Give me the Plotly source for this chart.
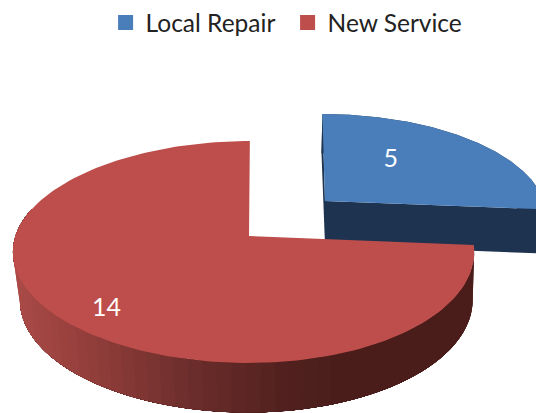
import math
import plotly.graph_objects as go

categories = ["Local Repair", "New Service"]
values = [5, 14]

TOP_COLORS = ["#4A7EBB", "#BE4E4B"]
BLUE_WALL = "#1E334F"
W, H = 536, 413
K = 0.144
STEPS = 160

# Perspective geometry per slice: top face and bottom face
GEOM = {
    "Local Repair": {
        "top": dict(ax=325, ay=201, rx=219, warp=0, ry=99.5, skew=-3),
        "bot": dict(ax=325, ay=245, rx=219, warp=0, ry=105, skew=-4),
    },
    "New Service": {
        "top": dict(ax=249, ay=236, rx=228.25, warp=-5.25, ry=108.7, skew=1),
        "bot": dict(ax=249, ay=284, rx=224, warp=-2.5, ry=110, skew=1),
    },
}
LABEL_POS = {"Local Repair": (37, 0.54), "New Service": (222, 0.835)}


def proj(g, theta_deg, r=1.0):
    t = math.radians(theta_deg)
    u, v = r * math.sin(t), r * math.cos(t)
    w = 1 + K * v
    x = g["ax"] + (g["rx"] + g["warp"] * u) * u / w + g["skew"] * v / w
    y = g["ay"] - g["ry"] * v / w
    return x, y


def arc(g, a0, a1, n=STEPS):
    pts = [proj(g, a0 + (a1 - a0) * i / n) for i in range(n + 1)]
    return [p[0] for p in pts], [p[1] for p in pts]


def wall_color(x):
    stops = [(15, (170, 74, 71)), (100, (142, 60, 57)), (200, (104, 44, 42)),
             (290, (80, 32, 30)), (340, (74, 29, 27)), (540, (74, 29, 27))]
    for (x0, c0), (x1, c1) in zip(stops, stops[1:]):
        if x <= x1:
            f = max(0, (x - x0) / (x1 - x0))
            return "rgb(%d,%d,%d)" % tuple(round(a + (b - a) * f) for a, b in zip(c0, c1))
    return "rgb(74,29,27)"


total = sum(values)
spans = []
start = 0.0
for val in values:
    spans.append((start, start + 360.0 * val / total))
    start += 360.0 * val / total

fig = go.Figure()


def poly(xs, ys, color):
    fig.add_trace(go.Scatter(x=xs, y=ys, mode="lines", fill="toself", fillcolor=color,
                             line=dict(color=color, width=0), showlegend=False,
                             hoverinfo="skip"))


# Blue slice
g = GEOM[categories[0]]
a0, a1 = spans[0]
tx, ty = arc(g["top"], a0, a1)
bx, by = arc(g["bot"], a0, a1)
poly(tx + bx[::-1], ty + by[::-1], BLUE_WALL)
apt, apb = (g["top"]["ax"], g["top"]["ay"]), (g["bot"]["ax"], g["bot"]["ay"])
poly([apt[0], apb[0], bx[0], tx[0]], [apt[1], apb[1], by[0], ty[0]], BLUE_WALL)
poly([apt[0], apb[0], bx[-1], tx[-1]], [apt[1], apb[1], by[-1], ty[-1]], BLUE_WALL)
poly([apt[0]] + tx + [apt[0]], [apt[1]] + ty + [apt[1]], TOP_COLORS[0])

# Red slice: side wall painted as nested bands, then the top face
g = GEOM[categories[1]]
a0, a1 = spans[1]
wall_end = 285.0
n = 60
for i in range(n):
    p0 = a0 + (wall_end - a0) * i / n
    p1 = a0 + (wall_end - a0) * (i + 1) / n
    tx, ty = arc(g["top"], p0, wall_end, 80)
    bx, by = arc(g["bot"], p0, wall_end, 80)
    mx, _ = proj(g["top"], (p0 + p1) / 2)
    poly(tx + bx[::-1], ty + by[::-1], wall_color(mx))
tx, ty = arc(g["top"], a0, a1)
poly([g["top"]["ax"]] + tx + [g["top"]["ax"]], [g["top"]["ay"]] + ty + [g["top"]["ay"]], TOP_COLORS[1])

# Data labels
for cat, val in zip(categories, values):
    th, r = LABEL_POS[cat]
    lx, ly = proj(GEOM[cat]["top"], th, r)
    fig.add_trace(go.Scatter(x=[lx], y=[ly], mode="text", text=[str(val)],
                             textfont=dict(family="Lato", size=25, color="white"),
                             showlegend=False, hoverinfo="skip"))

# Legend
for cat, col in zip(categories, TOP_COLORS):
    fig.add_trace(go.Scatter(x=[None], y=[None], mode="markers", name=cat,
                             marker=dict(symbol="square", size=15, color=col)))

fig.update_layout(
    width=W, height=H,
    margin=dict(l=0, r=0, t=0, b=0),
    paper_bgcolor="white", plot_bgcolor="white",
    xaxis=dict(range=[0, W], visible=False, fixedrange=True),
    yaxis=dict(range=[H, 0], visible=False, fixedrange=True),
    legend=dict(orientation="h", x=0.197, y=1.0, xanchor="left", yanchor="top",
                font=dict(family="Lato", size=24.5, color="#222222"),
                itemwidth=30, entrywidth=137, entrywidthmode="pixels",
                bgcolor="rgba(0,0,0,0)"),
)
fig.write_html("out.html", config={"displayModeBar": False},
               post_script="document.body.style.margin='0';document.body.style.overflow='hidden';")
